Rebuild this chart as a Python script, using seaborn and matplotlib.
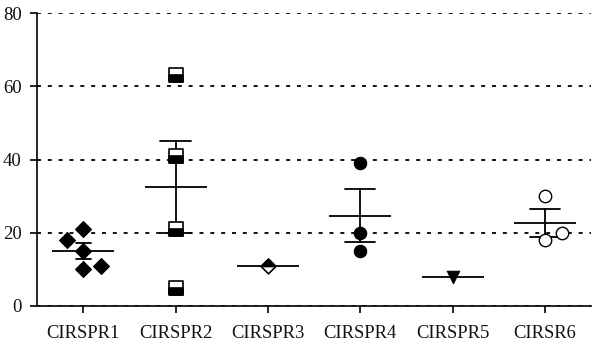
import matplotlib
matplotlib.use("Agg")
import matplotlib.pyplot as plt
from matplotlib.markers import MarkerStyle
import seaborn as sns
import pandas as pd

categories = ["CIRSPR1", "CIRSPR2", "CIRSPR3", "CIRSPR4", "CIRSPR5", "CIRSR6"]
cirspr1 = [18, 21, 15, 10, 11]
cirspr2 = [63, 41, 21, 5]
cirspr3 = [11]
cirspr4 = [39, 20, 15]
cirspr5 = [8]
cirsr6 = [30, 20, 18]
y_ticks = [0, 20, 40, 60, 80]

# horizontal scatter jitter (category units) - styling only
jitter1 = [-0.17, 0.0, 0.0, 0.0, 0.19]
jitter6 = [0.0, 0.19, 0.0]

series = [cirspr1, cirspr2, cirspr3, cirspr4, cirspr5, cirsr6]
jitters = [jitter1, [0] * len(cirspr2), [0], [0] * len(cirspr4), [0], jitter6]

rows = []
for i, (cat, vals, jit) in enumerate(zip(categories, series, jitters)):
    for v, j in zip(vals, jit):
        rows.append({"group": cat, "value": v, "pos": i + j})
df = pd.DataFrame(rows)

sns.set_theme(style="white")
plt.rcParams["font.family"] = ["Liberation Serif", "DejaVu Serif"]

fig = plt.figure(figsize=(5.97, 3.44), dpi=100)
ax = fig.add_axes([0.062, 0.1105, 0.928, 0.8515])

common = dict(x="group", y="value", order=categories, color="black",
              errorbar="se", estimator="mean", linestyle="none",
              markers="_", markersize=44, markeredgewidth=1.3,
              err_kws={"linewidth": 1.3}, ax=ax)
sns.pointplot(data=df[df["group"] != "CIRSPR1"], capsize=0.33, **common)
sns.pointplot(data=df[df["group"] == "CIRSPR1"], capsize=0.16, **common)

def pts(cat):
    return df[df["group"] == cat]

# CIRSPR1: black diamonds
sns.scatterplot(data=pts("CIRSPR1"), x="pos", y="value", marker="D", s=66,
                color="black", edgecolor="black", linewidth=0.8, zorder=5, ax=ax)
# CIRSPR2: squares, bottom black / top white
sns.scatterplot(data=pts("CIRSPR2"), x="pos", y="value", marker="s", s=90,
                color="white", edgecolor="black", linewidth=1.2, zorder=5, ax=ax)
sns.scatterplot(data=pts("CIRSPR2"), x="pos", y="value",
                marker=MarkerStyle("s", fillstyle="bottom"), s=90,
                color="black", edgecolor="black", linewidth=1.2, zorder=6, ax=ax)
# CIRSPR3: diamond, top black / bottom white
sns.scatterplot(data=pts("CIRSPR3"), x="pos", y="value", marker="D", s=56,
                color="white", edgecolor="black", linewidth=1.2, zorder=5, ax=ax)
sns.scatterplot(data=pts("CIRSPR3"), x="pos", y="value",
                marker=MarkerStyle("D", fillstyle="top"), s=56,
                color="black", edgecolor="black", linewidth=1.2, zorder=6, ax=ax)
# CIRSPR4: black circles
sns.scatterplot(data=pts("CIRSPR4"), x="pos", y="value", marker="o", s=80,
                color="black", edgecolor="black", linewidth=0.8, zorder=5, ax=ax)
# CIRSPR5: black down-triangle
sns.scatterplot(data=pts("CIRSPR5"), x="pos", y="value", marker="v", s=80,
                color="black", edgecolor="black", linewidth=0.8, zorder=5, ax=ax)
# CIRSR6: open circles
sns.scatterplot(data=pts("CIRSR6"), x="pos", y="value", marker="o", s=80,
                color="white", edgecolor="black", linewidth=1.0, zorder=5, ax=ax)

ax.set_xlim(-0.5, len(categories) - 0.5)
ax.set_ylim(0, 80)
ax.set_yticks(y_ticks)
ax.set_yticklabels([str(t) for t in y_ticks])
ax.set_xticks(range(len(categories)))
ax.set_xticklabels(categories)
ax.set_xlabel("")
ax.set_ylabel("")

ax.yaxis.grid(True, color="black", linestyle=(0, (2.2, 3.8)), linewidth=1.3)
ax.xaxis.grid(False)
ax.set_axisbelow(True)

for side in ["top", "right"]:
    ax.spines[side].set_visible(False)
for side in ["left", "bottom"]:
    ax.spines[side].set_color("black")
    ax.spines[side].set_linewidth(1.2)

ax.tick_params(axis="y", direction="out", length=5, width=1.2, color="black",
               labelsize=13.5, pad=6, left=True)
ax.tick_params(axis="x", direction="out", length=5, width=1.2, color="black",
               labelsize=13.4, pad=9, bottom=True)
for lab in ax.get_xticklabels() + ax.get_yticklabels():
    lab.set_color("#111111")

fig.savefig("out.png", dpi=100)
